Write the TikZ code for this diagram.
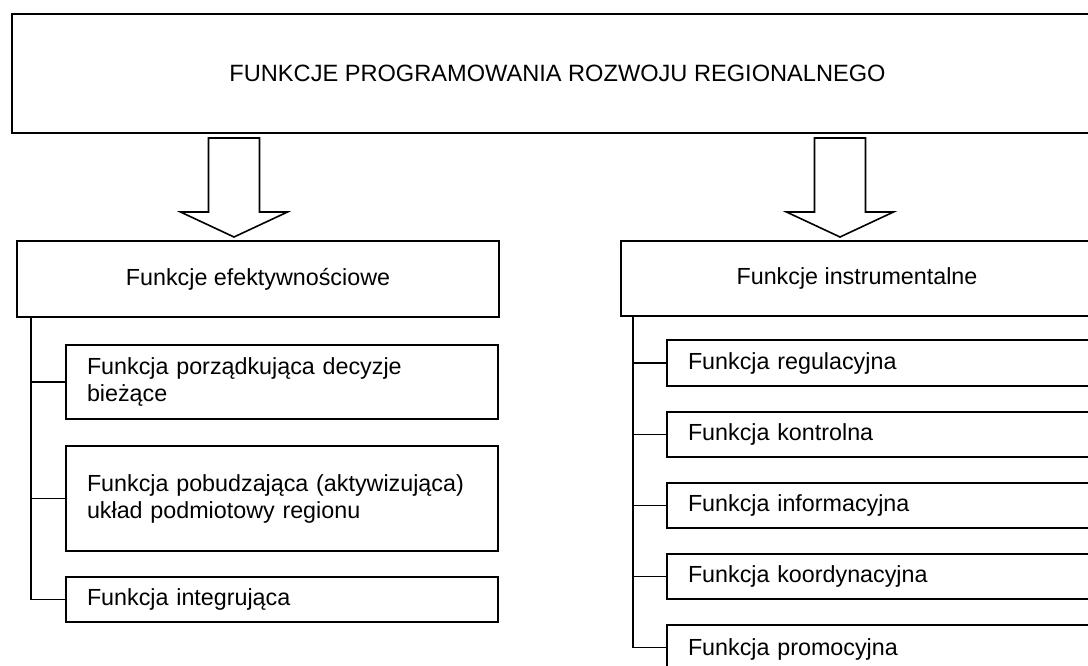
\documentclass[tikz,border=0pt]{standalone}
\usepackage{fontspec}
\setmainfont{Liberation Sans}
\usetikzlibrary{positioning,calc}
\tikzset{
  box/.style={draw=black, line width=1.8pt, rectangle, inner sep=0pt, anchor=center},
  subl/.style={box, minimum width=432pt, text width=390pt, inner xsep=21pt, align=left, font=\fontsize{23.3}{27}\selectfont},
  subr/.style={box, minimum width=450pt, text width=408pt, inner xsep=21pt, align=left, font=\fontsize{23.3}{27}\selectfont},
  tree/.style={draw=black, line width=1.8pt},
  barrow/.style={draw=black, line width=1.6pt, fill=white, line join=miter}
}
\newcommand\blockarr[1]{%
  \draw[barrow, shift={(#1)}] (-25.5,-99) -- (25.5,-99) -- (25.5,-25) -- (53.5,-25) -- (0,0) -- (-53.5,-25) -- (-25.5,-25) -- cycle;}
\begin{document}
\begin{tikzpicture}[x=1pt,y=-1pt]
\useasboundingbox (0,0) rectangle (1088,666);
\clip (0,0) rectangle (1088,666);
\fill[white] (0,0) rectangle (1088,666);

% top box
\node[box, minimum width=1091pt, minimum height=119pt, font=\fontsize{23.6}{27}\selectfont] (top) at (557.5,73.5) {FUNKCJE PROGRAMOWANIA ROZWOJU REGIONALNEGO};

% second level
\node[box, minimum width=482pt, minimum height=76pt, font=\fontsize{23.3}{27}\selectfont] (efk) at (258,279) {Funkcje efektywnościowe};
\node[box, minimum width=472pt, minimum height=75pt, font=\fontsize{23.3}{27}\selectfont] (inst) at (857,278.5) {Funkcje instrumentalne};

% block arrows
\coordinate (a1) at (234,237);
\coordinate (a2) at (840,237);
\blockarr{a1}
\blockarr{a2}

% left sub boxes
\node[subl, minimum height=74pt] (L1) at (282,382) {Funkcja porządkująca decyzje\\bieżące};
\node[subl, minimum height=105pt] (L2) at (282,498.5) {Funkcja pobudzająca (aktywizująca)\\układ podmiotowy regionu};
\node[subl, minimum height=45pt] (L3) at (282,599.5) {Funkcja integrująca};

% right sub boxes
\node[subr, minimum height=46pt] (R1) at (892,363) {Funkcja regulacyjna};
\node[subr, minimum height=45pt] (R2) at (892,434.5) {Funkcja kontrolna};
\node[subr, minimum height=45pt] (R3) at (892,505.5) {Funkcja informacyjna};
\node[subr, minimum height=45pt] (R4) at (892,576.5) {Funkcja koordynacyjna};
\node[subr, minimum height=45pt, text depth=0pt] (R5) at (892,647.5) {Funkcja promocyjna};

% tree connectors
\coordinate (lt) at ([xshift=15pt]efk.south west);
\coordinate (rt) at ([xshift=13pt]inst.south west);
\draw[tree] (lt) |- (L1.west);
\draw[tree] (lt) |- (L2.west);
\draw[tree] (lt) |- (L3.west);
\draw[tree] (rt) |- (R1.west);
\draw[tree] (rt) |- (R2.west);
\draw[tree] (rt) |- (R3.west);
\draw[tree] (rt) |- (R4.west);
\draw[tree] (rt) |- (R5.west);
\end{tikzpicture}
\end{document}
